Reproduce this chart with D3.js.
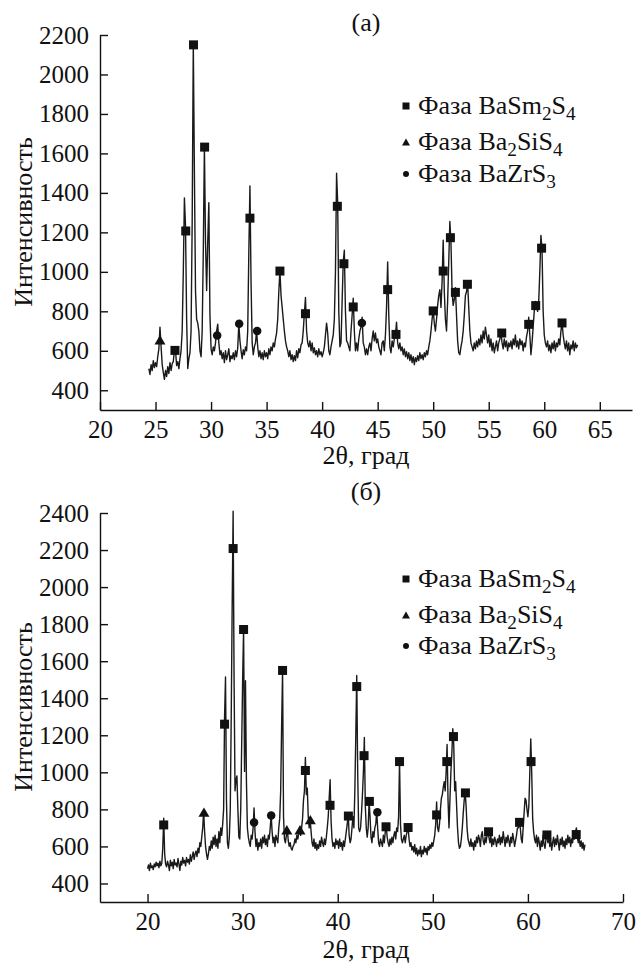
<!DOCTYPE html>
<html>
<head>
<meta charset="utf-8">
<script src="https://cdn.jsdelivr.net/npm/d3@7"></script>
<style>
  html, body { margin: 0; padding: 0; background: #fff; }
  svg { display: block; }
</style>
</head>
<body>
<svg id="chart" width="638" height="964"></svg>
<script>
// ---- Sample (а): diffractogram, 2θ from 24.4° in 0.1° steps ----
const scanA_theta0 = 24.4;
const scanA_step = 0.1;
const scanA_counts = [
  510, 480, 530, 500, 550, 515,
  540, 520, 570, 610, 720, 620, 530, 490, 455, 500,
  470, 520, 485, 540, 500, 535, 545, 605, 600, 525,
  545, 510, 560, 600, 700, 1000, 1375, 1230, 760, 510,
  560, 590, 700, 1250, 2160, 1500, 900, 760, 740, 700,
  600, 570, 700, 1100, 1640, 1150, 905, 1150, 1350, 780,
  610, 580, 620, 600, 640, 700, 735, 640, 580, 600,
  560, 590, 540, 600, 555, 580, 610, 545, 575, 560,
  590, 555, 600, 570, 615, 735, 650, 600, 560, 605,
  580, 620, 600, 700, 1100, 1435, 950, 640, 580, 620,
  640, 700, 620, 570, 600, 560, 590, 555, 600, 570,
  590, 560, 610, 580, 620, 600, 640, 620, 660, 690,
  760, 900, 1005, 880, 820, 760, 700, 650, 620, 600,
  570, 600, 555, 580, 545, 575, 550, 600, 565, 610,
  590, 630, 640, 700, 790, 870, 700, 640, 620, 650,
  600, 640, 590, 615, 580, 600, 570, 610, 580, 595,
  570, 590, 620, 680, 740, 690, 600, 580, 620, 650,
  680, 760, 1000, 1500, 1350, 800, 620, 640, 850, 1050,
  1110, 800, 650, 640, 620, 600, 700, 780, 866, 700,
  600, 640, 600, 660, 700, 720, 770, 640, 620, 580,
  610, 580, 620, 640, 600, 660, 700, 650, 690, 640,
  660, 620, 600, 580, 640, 650, 600, 680, 820, 1050,
  780, 620, 590, 650, 620, 660, 680, 745, 640, 610,
  640, 600, 620, 580, 610, 570, 595, 560, 590, 550,
  580, 540, 570, 530, 565, 545, 575, 550, 590, 560,
  580, 555, 590, 570, 600, 580, 620, 650, 700, 760,
  805, 740, 700, 760, 830, 880, 910, 820, 950, 1160,
  900, 760, 700, 850, 1050, 1255, 1150, 900, 830, 860,
  920, 780, 650, 590, 580, 620, 650, 700, 780, 880,
  900, 945, 820, 700, 640, 620, 600, 640, 610, 650,
  620, 660, 630, 680, 640, 700, 660, 720, 680, 640,
  680, 620, 660, 600, 640, 590, 620, 650, 600, 640,
  660, 690, 640, 610, 660, 620, 650, 600, 640, 620,
  650, 610, 660, 630, 680, 620, 650, 610, 660, 630,
  650, 600, 640, 620, 670, 700, 770, 680, 580, 640,
  720, 800, 850, 820, 800, 850, 1000, 1185, 1110, 800,
  680, 640, 620, 650, 600, 630, 590, 640, 610, 650,
  600, 640, 620, 660, 630, 700, 745, 680, 640, 610,
  650, 600, 640, 580, 630, 610, 650, 600, 640, 615,
  630
];
// Phase reflections identified in (а): [2θ, intensity]
const peaksA_BaSm2S4 = [[26.75, 602], [27.72, 1207], [28.42, 2150], [29.42, 1632], [33.5, 1272], [36.2, 1004],
  [38.5, 788], [41.37, 1332], [41.96, 1041], [42.8, 822], [45.9, 910], [46.65, 683], [50.0, 802],
  [50.9, 1004], [51.55, 1173], [52.0, 896], [53.08, 937], [56.17, 690], [58.6, 734], [59.23, 829],
  [59.76, 1120], [61.6, 741]];
const peaksA_Ba2SiS4 = [[25.4, 655]];
const peaksA_BaZrS3 = [[30.55, 677], [32.53, 737], [34.15, 700], [43.58, 741]];
const ticksA_x = [20, 25, 30, 35, 40, 45, 50, 55, 60, 65];
const ticksA_y = [400, 600, 800, 1000, 1200, 1400, 1600, 1800, 2000, 2200];

// ---- Sample (б): diffractogram, 2θ from 20.0° in 0.1° steps ----
const scanB_theta0 = 20.0;
const scanB_step = 0.1;
const scanB_counts = [
  480, 500, 470, 510, 485, 495, 475, 505, 490, 515,
  495, 510, 485, 520, 495, 510, 590, 752, 560, 505,
  490, 520, 500, 470, 525, 495, 515, 480, 530, 500,
  510, 490, 535, 505, 470, 520, 500, 540, 510, 525,
  495, 540, 515, 530, 505, 555, 520, 545, 570, 530,
  560, 575, 545, 590, 565, 620, 600, 650, 700, 790,
  680, 600, 560, 530, 560, 600, 580, 630, 590, 650,
  610, 660, 600, 640, 590, 680, 620, 700, 660, 720,
  800, 1300, 1515, 850, 620, 590, 650, 800, 1300, 1900,
  2410, 1500, 900, 960, 980, 800, 650, 640, 800, 1150,
  1500, 1775, 1005, 1495, 950, 700, 650, 620, 600, 660,
  640, 700, 808, 680, 600, 640, 580, 620, 600, 640,
  590, 650, 620, 660, 610, 640, 600, 660, 640, 700,
  770, 680, 620, 650, 600, 660, 640, 620, 700, 750,
  900, 1250, 1550, 760, 640, 620, 660, 690, 630, 600,
  620, 590, 580, 600, 610, 640, 620, 660, 640, 670,
  690, 660, 700, 750, 850, 900, 1080, 880, 915, 760,
  700, 745, 680, 620, 600, 640, 590, 620, 580, 610,
  590, 630, 600, 650, 620, 600, 640, 610, 650, 700,
  760, 860, 960, 740, 640, 600, 620, 590, 640, 610,
  630, 590, 640, 600, 620, 580, 630, 600, 640, 680,
  720, 780, 660, 620, 640, 700, 760, 700, 900, 1200,
  1523, 1000, 700, 680, 700, 780, 880, 1000, 1188, 820,
  700, 650, 700, 845, 760, 650, 620, 680, 650, 700,
  720, 790, 700, 620, 600, 640, 620, 600, 660, 620,
  680, 710, 650, 620, 600, 640, 610, 650, 620, 660,
  680, 640, 700, 680, 760, 1060, 720, 640, 620, 640,
  660, 620, 660, 680, 705, 640, 600, 620, 580, 600,
  570, 610, 560, 590, 550, 580, 560, 600, 545, 580,
  560, 600, 570, 590, 555, 600, 580, 610, 590, 620,
  600, 630, 660, 720, 840, 700, 680, 720, 800, 860,
  880, 920, 950, 900, 1000, 1150, 850, 700, 850, 1000,
  1100, 1235, 1150, 900, 950, 820, 700, 620, 590, 600,
  640, 700, 780, 850, 890, 820, 700, 640, 620, 600,
  640, 600, 620, 580, 630, 600, 650, 620, 660, 640,
  600, 660, 680, 630, 610, 650, 620, 660, 690, 650,
  620, 660, 600, 640, 610, 650, 630, 600, 640, 620,
  660, 610, 650, 620, 680, 640, 600, 650, 620, 660,
  630, 600, 650, 620, 670, 640, 600, 630, 660, 700,
  700, 730, 700, 640, 620, 700, 780, 860, 850, 800,
  760, 820, 1000, 1180, 1000, 750, 680, 640, 620, 660,
  600, 650, 620, 580, 630, 600, 660, 610, 590, 640,
  670, 620, 660, 600, 640, 580, 620, 650, 600, 640,
  610, 660, 620, 580, 640, 610, 650, 600, 630, 590,
  640, 610, 660, 620, 650, 600, 640, 620, 660, 640,
  680, 700, 650, 620, 640, 600, 630, 590, 620, 580,
  610
];
// Phase reflections identified in (б): [2θ, intensity]
const peaksB_BaSm2S4 = [[21.7, 716], [28.1, 1260], [29.0, 2208], [30.1, 1771], [34.2, 1550], [36.6, 1010],
  [39.19, 822], [41.12, 764], [42.0, 1463], [42.77, 1090], [43.33, 843], [45.08, 706], [46.5, 1058],
  [47.4, 702], [50.4, 770], [51.47, 1058], [52.17, 1193], [53.43, 889], [55.86, 679], [59.12, 730],
  [60.33, 1058], [62.0, 662], [65.08, 664]];
const peaksB_Ba2SiS4 = [[25.93, 785], [34.65, 690], [36.03, 690], [37.12, 745]];
const peaksB_BaZrS3 = [[31.2, 729], [33.0, 767], [44.17, 785]];
const ticksB_x = [20, 30, 40, 50, 60, 70];
const ticksB_y = [400, 600, 800, 1000, 1200, 1400, 1600, 1800, 2000, 2200, 2400];

// Legend entries: text split into [text, isSubscript] runs
const phaseNames = [
  [["Фаза BaSm", false], ["2", true], ["S", false], ["4", true]],
  [["Фаза Ba", false], ["2", true], ["SiS", false], ["4", true]],
  [["Фаза BaZrS", false], ["3", true]]
];
const axisTitleX = "2θ, град";
const axisTitleY = "Интенсивность";

const SERIF = '"Liberation Serif", "Times New Roman", Tinos, "DejaVu Serif", serif';
const svg = d3.select("#chart");
const TICK_FONT = 25;
const LABEL_FONT = 26;

// every text element gets the serif face directly
function serifText(sel, size) {
  return sel.style("font-family", SERIF).style("font-size", size + "px").attr("fill", "#111");
}

function toPoints(theta0, step, counts) {
  return counts.map((c, i) => [theta0 + i * step, c]);
}

function marker(g, kind, x, y, s) {
  if (kind === "square") {
    g.append("rect").attr("x", x - s / 2).attr("y", y - s / 2)
      .attr("width", s).attr("height", s).attr("fill", "#111");
  } else if (kind === "circle") {
    g.append("circle").attr("cx", x).attr("cy", y).attr("r", s / 2).attr("fill", "#111");
  } else {
    const h = s * 0.85;
    g.append("path")
      .attr("d", `M${x - s / 2},${y + h / 2}L${x + s / 2},${y + h / 2}L${x},${y - h / 2}Z`)
      .attr("fill", "#111");
  }
}

function panel(cfg) {
  const g = svg.append("g");
  const x = d3.scaleLinear().domain(cfg.xDomain).range(cfg.xRange);
  const y = d3.scaleLinear().domain(cfg.yDomain).range(cfg.yRange);

  // trace
  const line = d3.line().x(d => x(d[0])).y(d => y(d[1]));
  g.append("path")
    .datum(cfg.points)
    .attr("d", line)
    .attr("fill", "none")
    .attr("stroke", "#1a1a1a")
    .attr("stroke-width", 1.4)
    .attr("stroke-linejoin", "round");

  // phase markers
  cfg.squares.forEach(d => marker(g, "square", x(d[0]), y(d[1]), 9));
  cfg.triangles.forEach(d => marker(g, "triangle", x(d[0]), y(d[1]), 11));
  cfg.circles.forEach(d => marker(g, "circle", x(d[0]), y(d[1]), 8.5));

  // axes
  const ax = g.append("g")
    .attr("transform", `translate(0,${cfg.yRange[0]})`)
    .call(d3.axisBottom(x).tickValues(cfg.xTicks).tickFormat(d3.format("d"))
      .tickSizeInner(-8).tickSizeOuter(0).tickPadding(10));
  const ay = g.append("g")
    .attr("transform", `translate(${cfg.xRange[0]},0)`)
    .call(d3.axisLeft(y).tickValues(cfg.yTicks).tickFormat(d3.format("d"))
      .tickSizeInner(-8).tickSizeOuter(0).tickPadding(11));
  [ax, ay].forEach(a => {
    a.selectAll("path, line").attr("stroke", "#111").attr("stroke-width", 1.4);
    serifText(a.selectAll("text"), TICK_FONT);
  });

  // titles
  serifText(g.append("text").attr("x", cfg.titleX).attr("y", cfg.titleY)
    .attr("text-anchor", "middle").text(cfg.title), LABEL_FONT);
  serifText(g.append("text").attr("x", cfg.titleX).attr("y", cfg.xLabelY)
    .attr("text-anchor", "middle").text(axisTitleX), LABEL_FONT);
  serifText(g.append("text")
    .attr("transform", `translate(${cfg.yLabelX},${cfg.yLabelY}) rotate(-90)`)
    .attr("text-anchor", "middle").text(axisTitleY), LABEL_FONT);

  // legend
  const kinds = ["square", "triangle", "circle"];
  const sizes = [7, 8, 6];
  const sub = LABEL_FONT * 0.74;
  cfg.legendRows.forEach((ry, i) => {
    marker(g, kinds[i], cfg.legendX, ry, sizes[i]);
    const t = serifText(g.append("text").attr("x", cfg.legendX + 12).attr("y", ry + 8), LABEL_FONT);
    let low = false;
    phaseNames[i].forEach(([s, isSub]) => {
      const ts = t.append("tspan").text(s);
      if (isSub && !low) { ts.attr("dy", 6).style("font-size", sub + "px"); low = true; }
      else if (!isSub && low) { ts.attr("dy", -6); low = false; }
      else if (isSub) { ts.style("font-size", sub + "px"); }
    });
  });
}

panel({
  points: toPoints(scanA_theta0, scanA_step, scanA_counts),
  squares: peaksA_BaSm2S4, triangles: peaksA_Ba2SiS4, circles: peaksA_BaZrS3,
  xDomain: [20, 67.9], xRange: [100, 632],
  yDomain: [300, 2200], yRange: [410, 35],
  xTicks: ticksA_x, yTicks: ticksA_y,
  title: "(а)", titleX: 366, titleY: 31, xLabelY: 464,
  yLabelX: 32, yLabelY: 222,
  legendX: 406, legendRows: [106, 142, 174]
});

panel({
  points: toPoints(scanB_theta0, scanB_step, scanB_counts),
  squares: peaksB_BaSm2S4, triangles: peaksB_Ba2SiS4, circles: peaksB_BaZrS3,
  xDomain: [15, 70], xRange: [100, 623],
  yDomain: [300, 2400], yRange: [902, 513],
  xTicks: ticksB_x, yTicks: ticksB_y,
  title: "(б)", titleX: 366, titleY: 500, xLabelY: 958,
  yLabelX: 32, yLabelY: 707,
  legendX: 406, legendRows: [579, 615, 646]
});
</script>
</body>
</html>
